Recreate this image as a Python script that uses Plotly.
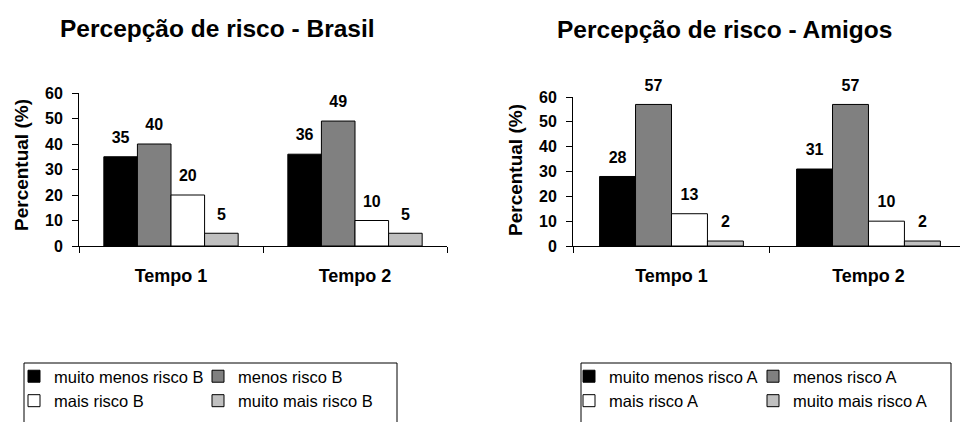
import plotly.graph_objects as go

# --- data -------------------------------------------------------------
tempos = ["Tempo 1", "Tempo 2"]

brasil_muito_menos = [35, 36]
brasil_menos = [40, 49]
brasil_mais = [20, 10]
brasil_muito_mais = [5, 5]

amigos_muito_menos = [28, 31]
amigos_menos = [57, 57]
amigos_mais = [13, 10]
amigos_muito_mais = [2, 2]

nomes_brasil = ["muito menos risco B", "menos risco B", "mais risco B", "muito mais risco B"]
nomes_amigos = ["muito menos risco A", "menos risco A", "mais risco A", "muito mais risco A"]

titulo_brasil = "Percepção de risco - Brasil"
titulo_amigos = "Percepção de risco - Amigos"
titulo_y = "Percentual (%)"
y_ticks = [0, 10, 20, 30, 40, 50, 60]

# --- styling ----------------------------------------------------------
W, H = 960, 422
FONT = "Liberation Sans, Arial, sans-serif"
cores = ["#000000", "#808080", "#FFFFFF", "#C0C0C0"]
colunas_legenda = ["c1", "c2", "c1", "c2"]  # two legend columns
GAP = 0.27


def px_x(p):
    return p / W


def px_y(p):
    return 1 - p / H


fig = go.Figure()


def add_series(series, nomes, xa, ya, legend):
    for i, (vals, nome) in enumerate(zip(series, nomes)):
        fig.add_trace(go.Bar(
            x=tempos, y=vals, name=nome,
            marker=dict(color=cores[i], line=dict(color="black", width=1)),
            xaxis=xa, yaxis=ya, legend=legend,
            legendgroup=legend + colunas_legenda[i],
            hoverinfo="skip",
        ))
    # value labels, grouped alongside the bars
    for i, vals in enumerate(series):
        fig.add_trace(go.Scatter(
            x=tempos, y=vals, mode="markers+text",
            text=[str(v) for v in vals], textposition="top center",
            textfont=dict(family=FONT, size=16, color="black", weight="bold"),
            marker=dict(size=14, opacity=0),
            xaxis=xa, yaxis=ya, showlegend=False, cliponaxis=False,
            hoverinfo="skip",
        ))


add_series([brasil_muito_menos, brasil_menos, brasil_mais, brasil_muito_mais],
           nomes_brasil, "x", "y", "legend")
add_series([amigos_muito_menos, amigos_menos, amigos_mais, amigos_muito_mais],
           nomes_amigos, "x2", "y2", "legend2")

xaxis_style = dict(
    type="category", showline=True, linecolor="black", linewidth=1,
    ticks="outside", tickson="boundaries", ticklen=6, tickcolor="black",
    tickfont=dict(family=FONT, size=18, color="black", weight="bold"),
    ticklabelstandoff=13, showgrid=False, zeroline=False, fixedrange=True,
)
yaxis_style = dict(
    range=[0, 60], tickvals=y_ticks, showline=True, linecolor="black", linewidth=1,
    ticks="outside", ticklen=6, tickcolor="black",
    tickfont=dict(family=FONT, size=16, color="black", weight="bold"),
    ticklabelstandoff=6, showgrid=False, zeroline=False, fixedrange=True,
)

legend_style = dict(
    orientation="h", xanchor="left", yanchor="top",
    font=dict(family=FONT, size=16.5, color="black"),
    bgcolor="rgba(0,0,0,0)", borderwidth=0,
    entrywidthmode="pixels", entrywidth=139,
    traceorder="grouped", tracegroupgap=0,
)

fig.update_layout(
    width=W, height=H,
    margin=dict(l=0, r=0, t=0, b=0, autoexpand=False),
    paper_bgcolor="white", plot_bgcolor="white",
    barmode="group", bargap=GAP, bargroupgap=0,
    scattermode="group", scattergap=GAP,
    font=dict(family=FONT, color="black"),
    xaxis=dict(domain=[px_x(79), px_x(447)], range=[-0.5, 1.5], anchor="y", **xaxis_style),
    yaxis=dict(domain=[px_y(246), px_y(93)], anchor="x", **yaxis_style),
    xaxis2=dict(domain=[px_x(573), 1.0], range=[-0.5, 1.4646], anchor="y2", **xaxis_style),
    yaxis2=dict(domain=[px_y(246), px_y(97)], anchor="x2", **yaxis_style),
    legend=dict(x=px_x(14), y=px_y(359), **legend_style),
    legend2=dict(x=px_x(569), y=px_y(359), **legend_style),
    showlegend=True,
)

# chart titles and rotated axis titles
for txt, cx, cy in [(titulo_brasil, 217, 28), (titulo_amigos, 724, 30)]:
    fig.add_annotation(text=txt, x=px_x(cx), y=px_y(cy), xref="paper", yref="paper",
                       xanchor="center", yanchor="middle", showarrow=False,
                       font=dict(family=FONT, size=24.5, color="black", weight="bold"))
for cx, cy in [(21, 165), (515, 170)]:
    fig.add_annotation(text=titulo_y, x=px_x(cx), y=px_y(cy), xref="paper", yref="paper",
                       xanchor="center", yanchor="middle", showarrow=False, textangle=-90,
                       font=dict(family=FONT, size=19, color="black", weight="bold"))

# legend frames (they run past the bottom edge of the figure)
for x0, x1 in [(24, 397), (581, 951)]:
    fig.add_shape(type="rect", xref="paper", yref="paper",
                  x0=px_x(x0), x1=px_x(x1), y0=px_y(440), y1=px_y(363),
                  line=dict(color="black", width=1), fillcolor="rgba(0,0,0,0)")

fig.write_html("out.html")
